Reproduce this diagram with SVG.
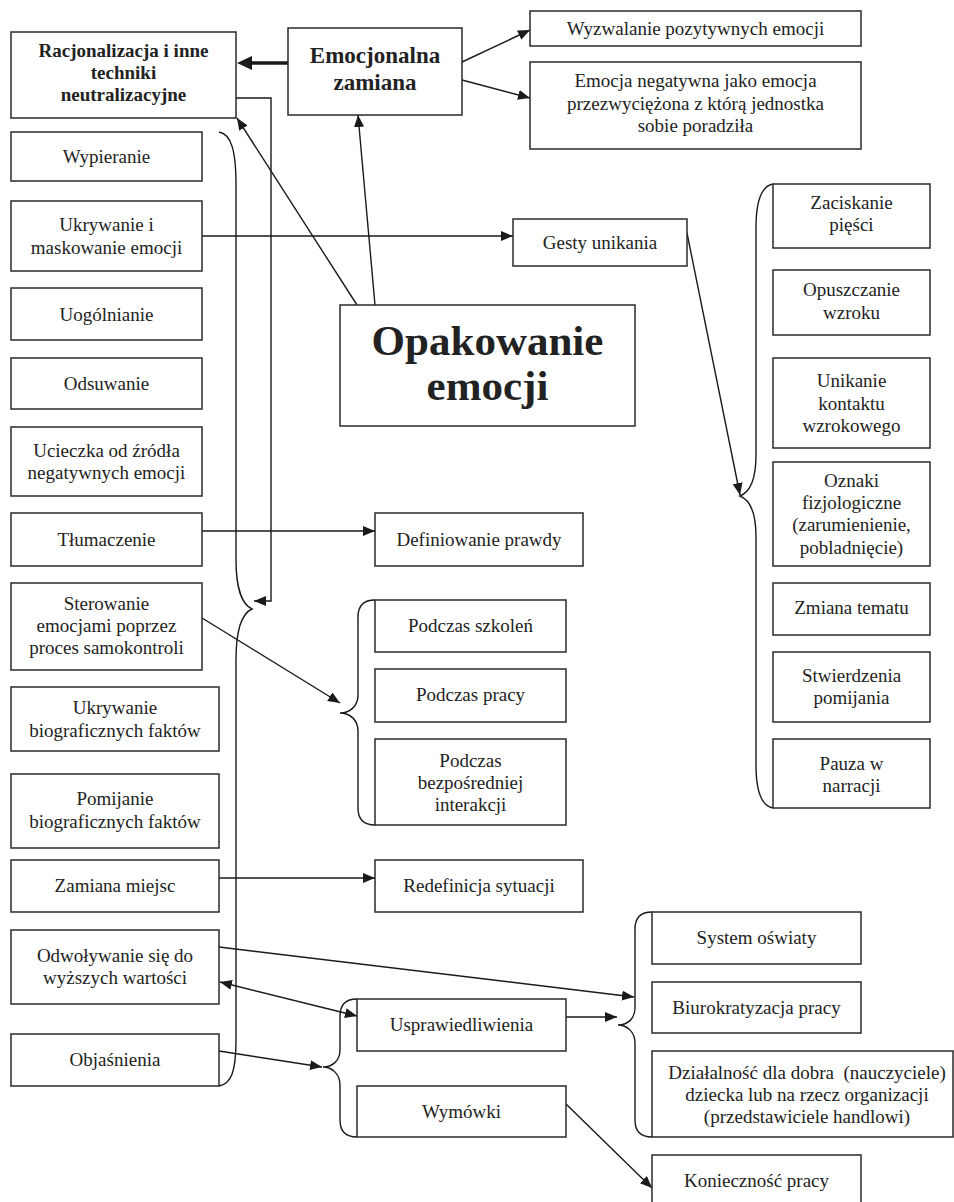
<svg xmlns="http://www.w3.org/2000/svg" width="954" height="1202" viewBox="0 0 954 1202">
<defs>
<style>
rect.b{fill:#fff;stroke:#2a2a2a;stroke-width:1.5}
text{font-family:"Liberation Serif","Times New Roman",serif;font-size:19px;fill:#222;text-anchor:middle}
text.bold{font-weight:bold}
.c{fill:none;stroke:#1a1a1a;stroke-width:1.4}
.br{fill:none;stroke:#1a1a1a;stroke-width:1.4}
</style>
<marker id="ah" markerUnits="userSpaceOnUse" markerWidth="13" markerHeight="11" refX="12" refY="5" orient="auto-start-reverse" viewBox="0 0 13 11">
<path d="M0,0 L12,5 L0,10 z" fill="#1a1a1a"/>
</marker>
</defs>
<rect width="954" height="1202" fill="#fff"/>

<g id="connectors">
<path class="c" d="M288,63 L252,63" style="stroke-width:3.6"/>
<path d="M237,63 L252,56 L252,70 z" fill="#1a1a1a"/>
<path class="c" d="M357,305 L237,118" marker-end="url(#ah)"/>
<path class="c" d="M375,305 L358,115" marker-end="url(#ah)"/>
<path class="c" d="M462,62 L530,30" marker-end="url(#ah)"/>
<path class="c" d="M462,80 L530,98" marker-end="url(#ah)"/>
<path class="c" d="M202,236 L513,236" marker-end="url(#ah)"/>
<path class="c" d="M687,233 L740,495" marker-end="url(#ah)"/>
<path class="c" d="M236,98 L271,98 L271,601 L254,601" marker-end="url(#ah)"/>
<path class="c" d="M202,531 L375,531" marker-end="url(#ah)"/>
<path class="c" d="M202,618 L340,703" marker-end="url(#ah)"/>
<path class="c" d="M219,878 L375,878" marker-end="url(#ah)"/>
<path class="c" d="M219,947 L634,997" marker-end="url(#ah)"/>
<path class="c" d="M220,982 L357,1016" marker-start="url(#ah)" marker-end="url(#ah)"/>
<path class="c" d="M219,1051 L322,1067" marker-end="url(#ah)"/>
<path class="c" d="M566,1017 L617,1017" marker-end="url(#ah)"/>
<path class="c" d="M566,1104 L652,1188" marker-end="url(#ah)"/>
</g>

<g id="braces">
<path class="br" d="M219,132 C231,134 236,150 236,185 L236,560 C236,590 243,605 252,609 C243,613 236,628 236,660 L236,1040 C236,1072 231,1084 219,1086"/>
<path class="br" d="M773,184 C762,186 756,200 756,228 L756,455 C756,480 750,492 740,496 C750,500 756,512 756,537 L756,765 C756,792 762,806 773,808"/>
<path class="br" d="M375,600 C364,600 358,606 358,617 L358,695 C358,706 350,713 340,713 C350,713 358,720 358,731 L358,808 C358,819 364,825 375,825"/>
<path class="br" d="M357,999 C346,999 340,1005 340,1016 L340,1050 C340,1061 332,1067 323,1067 C332,1067 340,1074 340,1085 L340,1120 C340,1131 346,1137 357,1137"/>
<path class="br" d="M652,912 C641,912 635,918 635,929 L635,1008 C635,1019 627,1025 618,1025 C627,1025 635,1032 635,1043 L635,1120 C635,1131 641,1137 652,1137"/>
</g>

<g id="n-racjonalizacja"><rect class="b" x="11" y="32" width="225" height="86"/>
<text class="bold" x="123.5" y="57">Racjonalizacja i inne</text>
<text class="bold" x="123.5" y="79">techniki</text>
<text class="bold" x="123.5" y="101">neutralizacyjne</text></g>

<g id="n-emocjonalna"><rect class="b" x="288" y="28" width="174" height="87"/>
<text class="bold" x="375" y="63" style="font-size:23px">Emocjonalna</text>
<text class="bold" x="375" y="90" style="font-size:23px">zamiana</text></g>

<g id="n-wyzwalanie"><rect class="b" x="530" y="11" width="331" height="35"/>
<text x="695.5" y="35">Wyzwalanie pozytywnych emocji</text></g>

<g id="n-emocja-negatywna"><rect class="b" x="530" y="62" width="331" height="87"/>
<text x="695.5" y="87">Emocja negatywna jako emocja</text>
<text x="695.5" y="109.5">przezwyciężona z którą jednostka</text>
<text x="695.5" y="132">sobie poradziła</text></g>

<g id="n-opakowanie"><rect class="b" x="340" y="305" width="295" height="121"/>
<text class="bold" x="487.5" y="355" style="font-size:43px">Opakowanie</text>
<text class="bold" x="487.5" y="400" style="font-size:43px">emocji</text></g>

<g id="n-wypieranie"><rect class="b" x="11" y="132" width="191" height="49"/>
<text x="106.5" y="163">Wypieranie</text></g>

<g id="n-ukrywanie"><rect class="b" x="11" y="201" width="191" height="70"/>
<text x="106.5" y="231">Ukrywanie i</text>
<text x="106.5" y="253.5">maskowanie emocji</text></g>

<g id="n-uogolnianie"><rect class="b" x="11" y="288" width="191" height="52"/>
<text x="106.5" y="320.5">Uogólnianie</text></g>

<g id="n-odsuwanie"><rect class="b" x="11" y="358" width="191" height="51"/>
<text x="106.5" y="390">Odsuwanie</text></g>

<g id="n-ucieczka"><rect class="b" x="11" y="427" width="191" height="69"/>
<text x="106.5" y="456.5">Ucieczka od źródła</text>
<text x="106.5" y="479">negatywnych emocji</text></g>

<g id="n-tlumaczenie"><rect class="b" x="11" y="513" width="191" height="53"/>
<text x="106.5" y="545.5">Tłumaczenie</text></g>

<g id="n-sterowanie"><rect class="b" x="11" y="583" width="191" height="87"/>
<text x="106.5" y="610">Sterowanie</text>
<text x="106.5" y="632">emocjami poprzez</text>
<text x="106.5" y="654">proces samokontroli</text></g>

<g id="n-ukrywanie-bio"><rect class="b" x="11" y="687" width="208" height="64"/>
<text x="115" y="714">Ukrywanie</text>
<text x="115" y="736.5">biograficznych faktów</text></g>

<g id="n-pomijanie-bio"><rect class="b" x="11" y="774" width="208" height="74"/>
<text x="115" y="805">Pomijanie</text>
<text x="115" y="827.5">biograficznych faktów</text></g>

<g id="n-zamiana"><rect class="b" x="11" y="860" width="208" height="52"/>
<text x="115" y="891.5">Zamiana miejsc</text></g>

<g id="n-odwolywanie"><rect class="b" x="11" y="930" width="208" height="74"/>
<text x="115" y="962">Odwoływanie się do</text>
<text x="115" y="984">wyższych wartości</text></g>

<g id="n-objasnienia"><rect class="b" x="11" y="1034" width="208" height="52"/>
<text x="115" y="1066">Objaśnienia</text></g>

<g id="n-gesty"><rect class="b" x="513" y="219" width="174" height="47"/>
<text x="600" y="248.5">Gesty unikania</text></g>

<g id="n-definiowanie"><rect class="b" x="375" y="513" width="208" height="53"/>
<text x="479" y="545.5">Definiowanie prawdy</text></g>

<g id="n-szkolen"><rect class="b" x="375" y="600" width="191" height="52"/>
<text x="470.5" y="632">Podczas szkoleń</text></g>

<g id="n-pracy"><rect class="b" x="375" y="669" width="191" height="53"/>
<text x="470.5" y="701">Podczas pracy</text></g>

<g id="n-interakcji"><rect class="b" x="375" y="739" width="191" height="86"/>
<text x="470.5" y="766.5">Podczas</text>
<text x="470.5" y="788.5">bezpośredniej</text>
<text x="470.5" y="811">interakcji</text></g>

<g id="n-redefinicja"><rect class="b" x="375" y="860" width="208" height="52"/>
<text x="479" y="891.5">Redefinicja sytuacji</text></g>

<g id="n-usprawiedliwienia"><rect class="b" x="357" y="999" width="209" height="52"/>
<text x="461.5" y="1031">Usprawiedliwienia</text></g>

<g id="n-wymowki"><rect class="b" x="357" y="1086" width="209" height="51"/>
<text x="461.5" y="1118">Wymówki</text></g>

<g id="n-system"><rect class="b" x="652" y="912" width="209" height="52"/>
<text x="756.5" y="944">System oświaty</text></g>

<g id="n-biurokratyzacja"><rect class="b" x="652" y="982" width="209" height="51"/>
<text x="756.5" y="1013.5">Biurokratyzacja pracy</text></g>

<g id="n-dzialalnosc"><rect class="b" x="652" y="1051" width="301" height="86"/>
<text x="807" y="1078.5" style="white-space:pre">Działalność dla dobra  (nauczyciele)</text>
<text x="807" y="1100.5">dziecka lub na rzecz organizacji</text>
<text x="807" y="1123">(przedstawiciele handlowi)</text></g>

<g id="n-koniecznosc"><rect class="b" x="652" y="1155" width="209" height="53"/>
<text x="756.5" y="1187">Konieczność pracy</text></g>

<g id="n-zaciskanie"><rect class="b" x="773" y="184" width="157" height="64"/>
<text x="851.5" y="209">Zaciskanie</text>
<text x="851.5" y="231">pięści</text></g>

<g id="n-opuszczanie"><rect class="b" x="773" y="270" width="157" height="65"/>
<text x="851.5" y="296">Opuszczanie</text>
<text x="851.5" y="318.5">wzroku</text></g>

<g id="n-unikanie"><rect class="b" x="773" y="358" width="157" height="90"/>
<text x="851.5" y="387">Unikanie</text>
<text x="851.5" y="409.5">kontaktu</text>
<text x="851.5" y="431.5">wzrokowego</text></g>

<g id="n-oznaki"><rect class="b" x="773" y="462" width="157" height="104"/>
<text x="851.5" y="487">Oznaki</text>
<text x="851.5" y="509">fizjologiczne</text>
<text x="851.5" y="531">(zarumienienie,</text>
<text x="851.5" y="553.5">pobladnięcie)</text></g>

<g id="n-zmiana-tematu"><rect class="b" x="773" y="583" width="157" height="52"/>
<text x="851.5" y="614">Zmiana tematu</text></g>

<g id="n-stwierdzenia"><rect class="b" x="773" y="652" width="157" height="70"/>
<text x="851.5" y="681.5">Stwierdzenia</text>
<text x="851.5" y="704">pomijania</text></g>

<g id="n-pauza"><rect class="b" x="773" y="739" width="157" height="69"/>
<text x="851.5" y="769.5">Pauza w</text>
<text x="851.5" y="791.5">narracji</text></g>
</svg>
